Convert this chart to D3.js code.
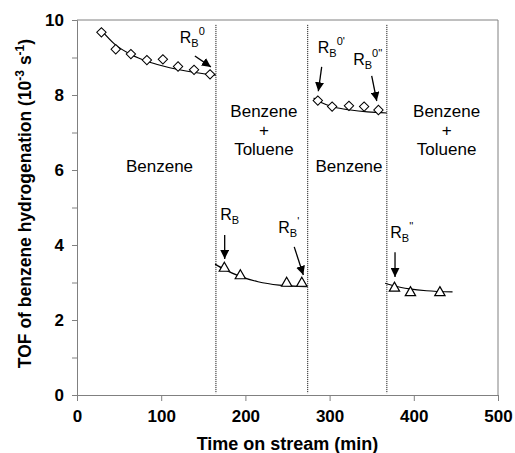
<!DOCTYPE html>
<html>
<head>
<meta charset="utf-8">
<script src="https://cdn.jsdelivr.net/npm/d3@7"></script>
<style>
  body { margin: 0; background: #fff; }
  svg { font-family: "Liberation Sans", Arial, sans-serif; }
</style>
</head>
<body>
<div id="chart"></div>
<script>
// measured points (time on stream, TOF)
var benzeneA = [[29, 9.67], [46, 9.22], [64, 9.09], [83, 8.93], [102, 8.95], [120, 8.76], [139, 8.67], [158, 8.55]];
var mixA     = [[175, 3.38], [194, 3.18], [249, 2.98], [267, 2.98]];
var benzeneB = [[286, 7.85], [303, 7.69], [323, 7.71], [341, 7.69], [358, 7.6]];
var mixB     = [[377, 2.85], [396, 2.73], [431, 2.73]];

// fitted curves
var fitA = [[28, 9.75], [45, 9.35], [64, 9.08], [83, 8.9], [101, 8.78], [120, 8.68], [140, 8.6], [165, 8.53]];
var fitB = [[164, 3.49], [175, 3.35], [193, 3.17], [215, 3.02], [240, 2.93], [273, 2.89]];
var fitC = [[281, 7.92], [290, 7.8], [305, 7.68], [325, 7.6], [345, 7.55], [368, 7.52]];
var fitD = [[366, 2.98], [378, 2.9], [395, 2.83], [415, 2.78], [446, 2.75]];

var switches = [165, 274, 368];

var xTicks = [0, 100, 200, 300, 400, 500];
var yTicks = [0, 1, 2, 3, 4, 5, 6, 7, 8, 9, 10];

var sections = [
  {x: 98, lines: ['Benzene']},
  {x: 222, lines: ['Benzene', '+', 'Toluene']},
  {x: 323, lines: ['Benzene']},
  {x: 439, lines: ['Benzene', '+', 'Toluene']}
];

// label: [t, v] of text start; arrow: from [t,v] to [t,v]
var notes = [
  {sup: '0',   at: [122, 9.39], from: [140, 9.04], to: [159, 8.75]},
  {sup: '',    at: [170, 4.67], from: [175.4, 4.27], to: [175.4, 3.63]},
  {sup: "'",   at: [239, 4.32], from: [258, 3.95], to: [268.8, 3.2]},
  {sup: "0'",  at: [286, 9.12], from: [290.6, 8.75], to: [286.6, 8.1]},
  {sup: "0''", at: [328, 8.8],  from: [350, 8.51], to: [356, 7.84]},
  {sup: "''",  at: [372, 4.2],  from: [377.7, 3.81], to: [377.7, 3.15]}
];

var W = 515, H = 453;
var m = {left: 77, right: 17, top: 20, bottom: 58};

var svg = d3.select('#chart').append('svg')
    .attr('width', W).attr('height', H);

var x = d3.scaleLinear().domain([0, 500]).range([m.left, W - m.right]);
var y = d3.scaleLinear().domain([0, 10]).range([H - m.bottom, m.top]);

var grey = '#808080';

// frame
svg.append('path')
    .attr('d', 'M' + x(0) + ',' + y(10) + 'H' + x(500) + 'V' + y(0))
    .attr('fill', 'none').attr('stroke', grey);

var gx = svg.append('g')
    .attr('transform', 'translate(0,' + y(0) + ')')
    .call(d3.axisBottom(x).tickValues(xTicks).tickSize(6).tickPadding(9));
var gy = svg.append('g')
    .attr('transform', 'translate(' + x(0) + ',0)')
    .call(d3.axisLeft(y).tickValues(yTicks).tickSize(5).tickPadding(8)
      .tickFormat(function(d) { return d % 2 == 0 ? d : ''; }));

[gx, gy].forEach(function(g) {
    g.selectAll('path, line').attr('stroke', grey);
    g.selectAll('text').attr('fill', '#000')
      .style('font-size', '17px').style('font-weight', 'bold')
      .style('font-family', '"Liberation Sans", Arial, sans-serif');
});

// axis titles
svg.append('text')
    .attr('x', x(250)).attr('y', 450)
    .attr('text-anchor', 'middle')
    .style('font-size', '18px').style('font-weight', 'bold')
    .text('Time on stream (min)');

var yt = svg.append('text')
    .attr('transform', 'translate(31,' + ((y(0) + y(10)) / 2 - 4) + ') rotate(-90)')
    .attr('text-anchor', 'middle')
    .style('font-size', '17.5px').style('font-weight', 'bold');
yt.append('tspan').text('TOF of benzene hydrogenation (10');
yt.append('tspan').attr('dy', -7).style('font-size', '12px').text('-3');
yt.append('tspan').attr('dy', 7).text(' s');
yt.append('tspan').attr('dy', -7).style('font-size', '12px').text('-1');
yt.append('tspan').attr('dy', 7).text(')');

// switching lines
svg.selectAll('.sw').data(switches).enter()
  .append('line')
    .attr('x1', function(d) { return x(d); }).attr('x2', function(d) { return x(d); })
    .attr('y1', y(9.87)).attr('y2', y(0.05))
    .attr('stroke', '#000').attr('stroke-width', 1)
    .attr('stroke-dasharray', '1,1');

// section labels
sections.forEach(function(s) {
    var top = s.lines.length == 1 ? 172 : 117;
    s.lines.forEach(function(l, i) {
        svg.append('text')
            .attr('x', x(s.x)).attr('y', top + i * 19)
            .attr('text-anchor', 'middle')
            .style('font-size', '17px')
            .text(l);
    });
});

// fitted curves
var line = d3.line()
    .x(function(d) { return x(d[0]); })
    .y(function(d) { return y(d[1]); })
    .curve(d3.curveMonotoneX);
[fitA, fitB, fitC, fitD].forEach(function(f) {
    svg.append('path').attr('d', line(f))
        .attr('fill', 'none').attr('stroke', '#000').attr('stroke-width', 1.2);
});

// markers
var diamond = d3.symbol().type(d3.symbolSquare).size(44);
var tri = d3.symbol().type(d3.symbolTriangle).size(46);

benzeneA.concat(benzeneB).forEach(function(d) {
    svg.append('path').attr('d', diamond())
        .attr('transform', 'translate(' + x(d[0]) + ',' + y(d[1]) + ') rotate(45)')
        .attr('fill', '#fff').attr('stroke', '#000').attr('stroke-width', 1);
});
mixA.concat(mixB).forEach(function(d) {
    svg.append('path').attr('d', tri())
        .attr('transform', 'translate(' + x(d[0]) + ',' + y(d[1]) + ')')
        .attr('fill', '#fff').attr('stroke', '#000').attr('stroke-width', 1.2);
});

// annotations
svg.append('defs').append('marker')
    .attr('id', 'head').attr('viewBox', '0 0 10 10')
    .attr('refX', 10).attr('refY', 5)
    .attr('markerWidth', 9).attr('markerHeight', 9)
    .attr('markerUnits', 'userSpaceOnUse')
    .attr('orient', 'auto')
  .append('path').attr('d', 'M0,0L10,5L0,10Z').attr('fill', '#000');

notes.forEach(function(n) {
    var t = svg.append('text')
        .attr('x', x(n.at[0])).attr('y', y(n.at[1]))
        .style('font-size', '16px');
    t.append('tspan').text('R');
    t.append('tspan').attr('dy', 4).style('font-size', '11px').text('B');
    if (n.sup) t.append('tspan').attr('dy', -12).style('font-size', '11px').text(n.sup);
    svg.append('line')
        .attr('x1', x(n.from[0])).attr('y1', y(n.from[1]))
        .attr('x2', x(n.to[0])).attr('y2', y(n.to[1]))
        .attr('stroke', '#000').attr('stroke-width', 1.3)
        .attr('marker-end', 'url(#head)');
});
</script>
</body>
</html>
